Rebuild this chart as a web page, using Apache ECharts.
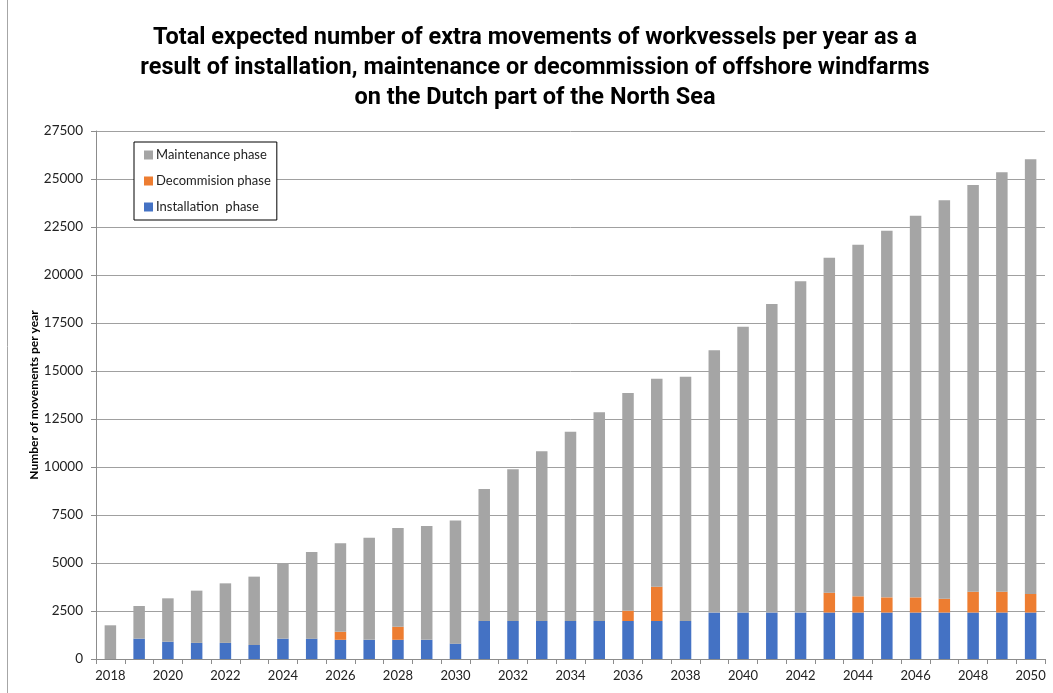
<!DOCTYPE html>
<html>
<head>
<meta charset="utf-8">
<script src="https://cdn.jsdelivr.net/npm/echarts@6/dist/echarts.min.js"></script>
<style>
  html, body { margin: 0; padding: 0; background: #fff; }
  #chart { width: 1053px; height: 693px; }
</style>
</head>
<body>
<div id="chart"></div>
<script>
const years = ['2018','2019','2020','2021','2022','2023','2024','2025','2026','2027','2028','2029','2030',
  '2031','2032','2033','2034','2035','2036','2037','2038','2039','2040','2041','2042','2043','2044',
  '2045','2046','2047','2048','2049','2050'];

const installation = [0, 1060, 900, 840, 840, 730, 1060, 1060, 1000, 1000, 1000, 1000, 800,
  1980, 1980, 1980, 1980, 1980, 1980, 1980, 1980, 2420, 2420, 2420, 2420, 2420, 2420,
  2420, 2420, 2420, 2420, 2420, 2420];

const decommission = [0, 0, 0, 0, 0, 0, 0, 0, 420, 0, 680, 0, 0,
  0, 0, 0, 0, 0, 535, 1785, 0, 0, 0, 0, 0, 1035, 845,
  790, 790, 720, 1085, 1085, 965];

const maintenance = [1755, 1700, 2260, 2720, 3100, 3560, 3925, 4515, 4605, 5320, 5140, 5930, 6420,
  6870, 7900, 8840, 9860, 10870, 11335, 10835, 12720, 13660, 14880, 16070, 17250, 17445, 18315,
  19090, 19880, 20750, 21185, 21845, 22640];

const titleText = 'Total expected number of extra movements of workvessels per year as a\nresult of installation, maintenance or decommission of offshore windfarms\non the Dutch part of the North Sea';
const yAxisName = 'Number of movements per year';

const chart = echarts.init(document.getElementById('chart'), null, { renderer: 'canvas' });

const option = {
  backgroundColor: '#ffffff',
  animation: false,
  title: {
    text: titleText,
    left: 535,
    top: 23,
    padding: 0,
    textAlign: 'center',
    textStyle: {
      fontFamily: 'Roboto',
      fontWeight: 'bold',
      fontSize: 23.5,
      lineHeight: 30,
      color: '#000'
    }
  },
  legend: {
    orient: 'vertical',
    left: 134,
    top: 142,
    padding: [5, 6, 5, 10],
    itemGap: 10,
    itemWidth: 9,
    itemHeight: 9,
    icon: 'rect',
    backgroundColor: '#fff',
    borderColor: '#000',
    borderWidth: 1,
    textStyle: { fontFamily: 'Lato', fontSize: 13, lineHeight: 16, color: '#222', padding: [0, 0, 0, -2] },
    data: ['Maintenance phase', 'Decommision phase', 'Installation  phase']
  },
  grid: { left: 96, right: 8, top: 131, bottom: 34, containLabel: false },
  xAxis: {
    type: 'category',
    data: years,
    boundaryGap: true,
    axisLine: { lineStyle: { color: '#8c8c8c', width: 1 } },
    axisTick: { show: true, interval: 0, length: 5, lineStyle: { color: '#8c8c8c' } },
    axisLabel: { interval: 1, fontFamily: 'Lato', fontSize: 13, color: '#222', margin: 10 }
  },
  yAxis: {
    type: 'value',
    min: 0,
    max: 27500,
    interval: 2500,
    name: yAxisName,
    nameLocation: 'middle',
    nameGap: 56,
    nameMoveOverlap: false,
    nameRotate: 90,
    nameTextStyle: { fontFamily: 'Lato', fontWeight: 'bold', fontSize: 12, color: '#000' },
    axisLine: { show: true, lineStyle: { color: '#8c8c8c', width: 1 } },
    axisTick: { show: true, length: 5, lineStyle: { color: '#8c8c8c' } },
    axisLabel: { fontFamily: 'Lato', fontSize: 13.5, color: '#222', margin: 13, formatter: function (v) { return String(v); } },
    splitLine: { show: true, lineStyle: { color: '#a0a0a0', width: 1 } }
  },
  series: [
    {
      name: 'Installation  phase',
      type: 'bar',
      stack: 'total',
      data: installation,
      barWidth: '40%',
      itemStyle: { color: '#4472c4' }
    },
    {
      name: 'Decommision phase',
      type: 'bar',
      stack: 'total',
      data: decommission,
      barWidth: '40%',
      itemStyle: { color: '#ed7d31' }
    },
    {
      name: 'Maintenance phase',
      type: 'bar',
      stack: 'total',
      data: maintenance,
      barWidth: '40%',
      itemStyle: { color: '#a5a5a5' }
    }
  ],
  graphic: [
    {
      type: 'line',
      shape: { x1: 7.5, y1: 0, x2: 7.5, y2: 693 },
      style: { stroke: '#a6a6a6', lineWidth: 1 }
    }
  ]
};

chart.setOption(option);
</script>
</body>
</html>
